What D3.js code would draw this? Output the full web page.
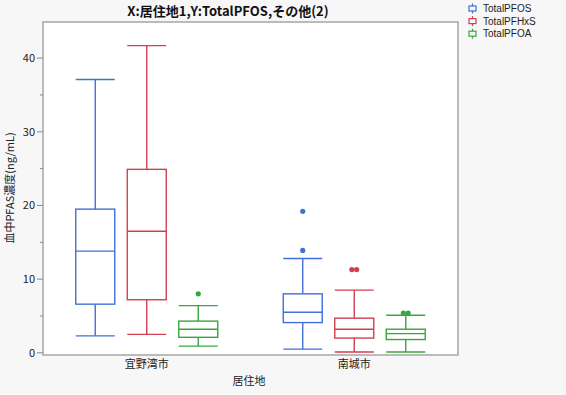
<!DOCTYPE html>
<html><head><meta charset="utf-8">
<script src="https://cdn.jsdelivr.net/npm/d3@7"></script>
<style>
html,body{margin:0;padding:0;background:#f7f7f7;}
svg{display:block;font-family:"Noto Sans CJK JP","Noto Sans",sans-serif;}
</style></head>
<body><svg id="c" width="566" height="395"></svg>
<script>
const categories = ["宜野湾市", "南城市"];
const seriesNames = ["TotalPFOS", "TotalPFHxS", "TotalPFOA"];
// [lower whisker, Q1, median, Q3, upper whisker] per category
const pfosStats  = [[2.3, 6.6, 13.8, 19.5, 37.1], [0.5, 4.1, 5.5, 8.0, 12.8]];
const pfhxsStats = [[2.5, 7.2, 16.5, 24.9, 41.7], [0.1, 2.0, 3.2, 4.7, 8.5]];
const pfoaStats  = [[0.9, 2.1, 3.2, 4.3, 6.4], [0.1, 1.8, 2.6, 3.2, 5.1]];
const pfosOutliers  = [[], [13.9, 19.2]];
const pfhxsOutliers = [[], [11.3, 11.3]];
const pfoaOutliers  = [[8.0], [5.4, 5.4]];
const yTicks = [0, 10, 20, 30, 40];
const yMinorTicks = [5, 15, 25, 35];
const colors = ["#4070d8", "#d2404f", "#37a73c"];

const statsBySeries = [pfosStats, pfhxsStats, pfoaStats];
const outBySeries = [pfosOutliers, pfhxsOutliers, pfoaOutliers];

const svg = d3.select("#c");
const L = 43, R = 458, T = 22, B = 355;

const y = d3.scaleLinear().domain([-0.3, 44.9]).range([B, T]);
const x = d3.scaleBand().domain(categories).range([L, R]);
const xs = d3.scalePoint().domain(seriesNames).range([-51.5, 51.5]);
const boxW = 39;

svg.append("rect").attr("x", L).attr("y", T).attr("width", R - L).attr("height", B - T)
  .attr("fill", "#fff");

// boxes
seriesNames.forEach((s, si) => {
  const col = colors[si];
  categories.forEach((c, ci) => {
    const st = statsBySeries[si][ci];
    const cx = x(c) + x.bandwidth() / 2 + xs(s);
    const g = svg.append("g").attr("stroke", col).attr("stroke-width", 1.4).attr("fill", "none");
    g.append("line").attr("x1", cx).attr("x2", cx).attr("y1", y(st[0])).attr("y2", y(st[1]));
    g.append("line").attr("x1", cx).attr("x2", cx).attr("y1", y(st[3])).attr("y2", y(st[4]));
    [st[0], st[4]].forEach(v => g.append("line").attr("x1", cx - boxW / 2).attr("x2", cx + boxW / 2)
      .attr("y1", y(v)).attr("y2", y(v)));
    g.append("rect").attr("x", cx - boxW / 2).attr("width", boxW)
      .attr("y", y(st[3])).attr("height", y(st[1]) - y(st[3]));
    g.append("line").attr("x1", cx - boxW / 2).attr("x2", cx + boxW / 2)
      .attr("y1", y(st[2])).attr("y2", y(st[2]));
    const outs = outBySeries[si][ci];
    const counts = {};
    outs.forEach(v => counts[v] = (counts[v] || 0) + 1);
    const seen = {};
    outs.forEach(v => {
      const n = counts[v];
      const i = seen[v] = (seen[v] === undefined ? 0 : seen[v] + 1);
      svg.append("circle").attr("cx", cx + (i - (n - 1) / 2) * 4.8).attr("cy", y(v))
        .attr("r", 2.6).attr("fill", col);
    });
  });
});

// frame
svg.append("path").attr("d", `M${L},${T}H${R}V${B}H${L}Z`).attr("fill", "none")
  .attr("stroke", "#a6a6a6").attr("stroke-width", 1.5);

// y axis
const ya = svg.append("g");
yTicks.forEach(v => {
  ya.append("line").attr("x1", L - 6).attr("x2", L).attr("y1", y(v)).attr("y2", y(v))
    .attr("stroke", "#888").attr("stroke-width", 1);
  ya.append("text").attr("x", L - 8).attr("y", y(v)).attr("dy", "0.35em").attr("text-anchor", "end")
    .attr("font-size", 11).attr("fill", "#222").text(v);
});
yMinorTicks.forEach(v => {
  ya.append("line").attr("x1", L - 3).attr("x2", L).attr("y1", y(v)).attr("y2", y(v))
    .attr("stroke", "#888").attr("stroke-width", 1);
});

// x labels
categories.forEach(c => {
  svg.append("text").attr("x", x(c) + x.bandwidth() / 2).attr("y", 364).attr("dy", "0.35em")
    .attr("text-anchor", "middle").attr("font-size", 11).attr("fill", "#222").text(c);
});

svg.append("text").attr("x", 249).attr("y", 381).attr("dy", "0.35em").attr("text-anchor", "middle")
  .attr("font-size", 11).attr("fill", "#222").text("居住地");
svg.append("text").attr("transform", "translate(10,188) rotate(-90)").attr("dy", "0.35em")
  .attr("text-anchor", "middle").attr("font-size", 11).attr("fill", "#222").text("血中PFAS濃度(ng/mL)");

svg.append("text").attr("x", 228).attr("y", 11).attr("dy", "0.35em").attr("text-anchor", "middle")
  .attr("font-size", 13).attr("font-weight", "bold").attr("fill", "#111").text("X:居住地1,Y:TotalPFOS,その他(2)");

// legend
seriesNames.forEach((s, i) => {
  const cy = 8.5 + i * 12.6;
  const g = svg.append("g").attr("stroke", colors[i]).attr("stroke-width", 1.2).attr("fill", "none");
  g.append("line").attr("x1", 472.5).attr("x2", 472.5).attr("y1", cy - 5).attr("y2", cy + 5);
  g.append("rect").attr("x", 469).attr("y", cy - 2.5).attr("width", 7).attr("height", 5).attr("fill", "#f7f7f7");
  svg.append("text").attr("x", 483).attr("y", cy).attr("dy", "0.35em").attr("font-size", 10)
    .attr("font-family", "'Liberation Sans', Arial, sans-serif")
    .attr("fill", "#222").text(s);
});
</script></body></html>
